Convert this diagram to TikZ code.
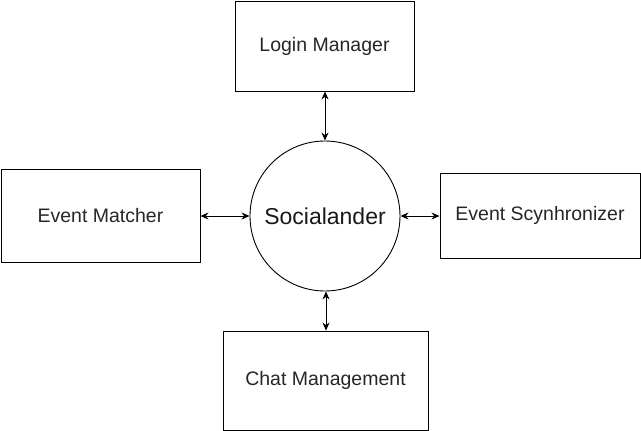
\documentclass[tikz,border=0pt]{standalone}
\usepackage{fontspec}
\setmainfont{Liberation Sans}
\usetikzlibrary{arrows.meta}
\begin{document}
\begin{tikzpicture}[x=1pt,y=-1pt,
  box/.style={draw,line width=0.9pt,inner sep=0pt,font=\fontsize{19.5}{23}\selectfont,text=black!85},
  conn/.style={line width=0.9pt,{Stealth[length=8pt,width=7pt]}-{Stealth[length=8pt,width=7pt]}}]
\useasboundingbox (0,0) rectangle (641,431);
\node[box,minimum width=179pt,minimum height=90pt] (login) at (324.5,46) {Login Manager};
\node[box,minimum width=199pt,minimum height=93pt] (matcher) at (100.5,215.5) {Event Matcher};
\node[box,minimum width=200pt,minimum height=85pt] (sync) at (540,215.5) {Event Scynhronizer};
\node[box,minimum width=205pt,minimum height=99pt] (chat) at (325.5,380.5) {Chat Management};
\node[draw,circle,line width=0.9pt,minimum size=150pt,inner sep=0pt,font=\fontsize{23}{27}\selectfont,text=black!90] (soc) at (325,216) {Socialander};
\draw[conn] (soc.north) -- (soc.north |- login.south);
\draw[conn] (soc.west) -- (matcher.east |- soc.west);
\draw[conn] (soc.east) -- (sync.west |- soc.east);
\draw[conn] (soc.south) ++(1,0) coordinate (sb) -- (sb |- chat.north);
\end{tikzpicture}
\end{document}
